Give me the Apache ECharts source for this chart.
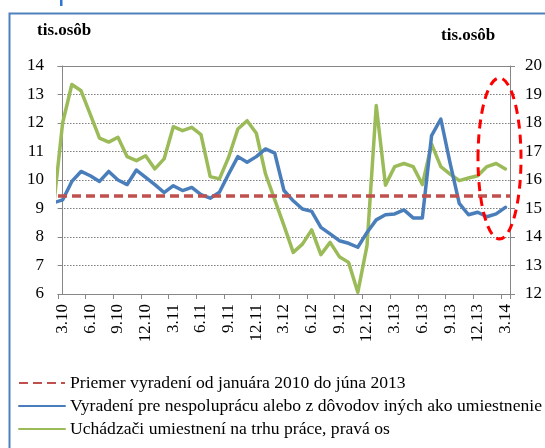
<!DOCTYPE html>
<html>
<head>
<meta charset="utf-8">
<script src="https://cdn.jsdelivr.net/npm/echarts@6/dist/echarts.min.js"></script>
<style>
html,body{margin:0;padding:0;background:#fff;}
#chart{width:545px;height:448px;}
</style>
</head>
<body>
<div id="chart"></div>
<script>
// Month labels (m.yy), March 2010 – March 2014
const months = [
  "3.10","4.10","5.10","6.10","7.10","8.10","9.10","10.10","11.10","12.10",
  "1.11","2.11","3.11","4.11","5.11","6.11","7.11","8.11","9.11","10.11","11.11","12.11",
  "1.12","2.12","3.12","4.12","5.12","6.12","7.12","8.12","9.12","10.12","11.12","12.12",
  "1.13","2.13","3.13","4.13","5.13","6.13","7.13","8.13","9.13","10.13","11.13","12.13",
  "1.14","2.14","3.14"
];
// Series values, February 2010 – March 2014 (first value lies just left of the visible axis)
const blueValues = [
  9.20,
  9.30, 9.95,10.30,10.15, 9.95,10.30,10.00, 9.84,10.35,10.09, 9.84, 9.56,
  9.80, 9.63, 9.74, 9.49, 9.36, 9.57,10.21,10.82,10.62,10.82,11.09,10.94,
  9.63, 9.27, 8.98, 8.90, 8.34, 8.11, 7.87, 7.78, 7.64, 8.16, 8.60, 8.78,
  8.81, 8.95, 8.67, 8.67,11.56,12.14,10.60, 9.18, 8.78, 8.87, 8.71, 8.81,
  9.04
];
const greenValues = [
  15.00,
  18.00,19.35,19.13,18.30,17.47,17.33,17.50,16.82,16.68,16.85,16.39,16.74,
  17.87,17.73,17.85,17.59,16.12,16.04,16.80,17.79,18.08,17.64,16.21,15.30,
  14.40,13.46,13.75,14.25,13.38,13.81,13.31,13.11,12.06,13.70,18.61,15.82,
  16.47,16.58,16.47,15.84,17.26,16.47,16.21,15.98,16.07,16.15,16.47,16.58,
  16.39
];
const averageValue = 9.45;
const leftTicks = {min: 6, max: 14, interval: 1};
const rightTicks = {min: 12, max: 20, interval: 1};
const seriesNames = [
  "Priemer vyradení od januára 2010 do júna 2013",
  "Vyradení pre nespoluprácu alebo z dôvodov iných ako umiestnenie",
  "Uchádzači umiestnení na trhu práce, pravá os"
];

const FONT = "Liberation Serif";
const AXIS = "#868686";
const chart = echarts.init(document.getElementById('chart'), null, {renderer: 'canvas'});

const toPairs = arr => arr.map((v, i) => [i - 1, v]);

chart.setOption({
  animation: false,
  backgroundColor: '#fff',
  graphic: [
    {type: 'rect', z: 100, shape: {x: 9.5, y: 13.5, width: 600, height: 500},
     style: {fill: 'none', stroke: '#4f81bd', lineWidth: 2}},
    {type: 'rect', z: 100, shape: {x: 60, y: 0, width: 2.5, height: 6},
     style: {fill: '#2e75d6'}},
    {type: 'text', z: 100, x: 37, y: 31,
     style: {text: 'tis.osôb', font: 'bold 17px "Liberation Serif"', fill: '#000', verticalAlign: 'middle'}},
    {type: 'text', z: 100, x: 441, y: 36,
     style: {text: 'tis.osôb', font: 'bold 17px "Liberation Serif"', fill: '#000', verticalAlign: 'middle'}},
    {type: 'ellipse', z: 100, shape: {cx: 499.5, cy: 158.5, rx: 21.5, ry: 80.5},
     style: {fill: 'none', stroke: '#ff0000', lineWidth: 3, lineDash: [9, 6]}}
  ],
  grid: {left: 58, right: 32, top: 66, bottom: 154, containLabel: false},
  legend: {
    orient: 'vertical', left: 13, top: 369,
    itemWidth: 46, itemHeight: 14, itemGap: 5,
    data: seriesNames,
    itemStyle: {opacity: 0},
    textStyle: {fontFamily: FONT, fontSize: 17.6, color: '#000', lineHeight: 17.5},
    selectedMode: false
  },
  xAxis: [
    {
      type: 'category', data: months, boundaryGap: true, position: 'bottom',
      axisLine: {show: true, lineStyle: {color: AXIS, width: 1}},
      axisTick: {show: true, interval: 2, length: 5, lineStyle: {color: AXIS}},
      axisLabel: {interval: 2, rotate: 90, margin: 10, fontFamily: FONT, fontSize: 17, color: '#000'},
      splitLine: {show: false}
    },
    {
      type: 'value', min: -0.5, max: months.length - 0.5, position: 'top',
      axisLine: {show: true, onZero: false, lineStyle: {color: AXIS, width: 1}},
      axisTick: {show: false}, axisLabel: {show: false}, splitLine: {show: false}
    }
  ],
  yAxis: [
    {
      type: 'value', min: leftTicks.min, max: leftTicks.max, interval: leftTicks.interval, position: 'left',
      axisLine: {show: true, lineStyle: {color: AXIS}},
      axisTick: {show: true, length: 5, lineStyle: {color: AXIS}},
      axisLabel: {margin: 14, fontFamily: FONT, fontSize: 17, color: '#000'},
      splitLine: {show: true, lineStyle: {color: '#7f7f7f', type: [1.5, 1.5], width: 1}}
    },
    {
      type: 'value', min: rightTicks.min, max: rightTicks.max, interval: rightTicks.interval, position: 'right',
      axisLine: {show: true, lineStyle: {color: AXIS}},
      axisTick: {show: true, length: 5, lineStyle: {color: AXIS}},
      axisLabel: {margin: 15, fontFamily: FONT, fontSize: 17, color: '#000'},
      splitLine: {show: false}
    }
  ],
  series: [
    {
      name: seriesNames[0], type: 'line', xAxisIndex: 1, yAxisIndex: 0, data: [],
      symbol: 'none', color: '#c0504d',
      lineStyle: {color: '#c0504d', width: 3.5, type: [9, 5]},
      markLine: {
        silent: true, symbol: 'none', label: {show: false},
        lineStyle: {color: '#c0504d', width: 3.5, type: [9, 5]},
        data: [{yAxis: averageValue}]
      }
    },
    {
      name: seriesNames[1], type: 'line', xAxisIndex: 1, yAxisIndex: 0,
      data: toPairs(blueValues), symbol: 'none', color: '#4a7ebb', z: 3,
      lineStyle: {color: '#4a7ebb', width: 3.5, cap: 'round', join: 'round'}
    },
    {
      name: seriesNames[2], type: 'line', xAxisIndex: 1, yAxisIndex: 1,
      data: toPairs(greenValues), symbol: 'none', color: '#9bbb59', z: 2,
      lineStyle: {color: '#9bbb59', width: 3.5, cap: 'round', join: 'round'}
    }
  ]
});
</script>
</body>
</html>
